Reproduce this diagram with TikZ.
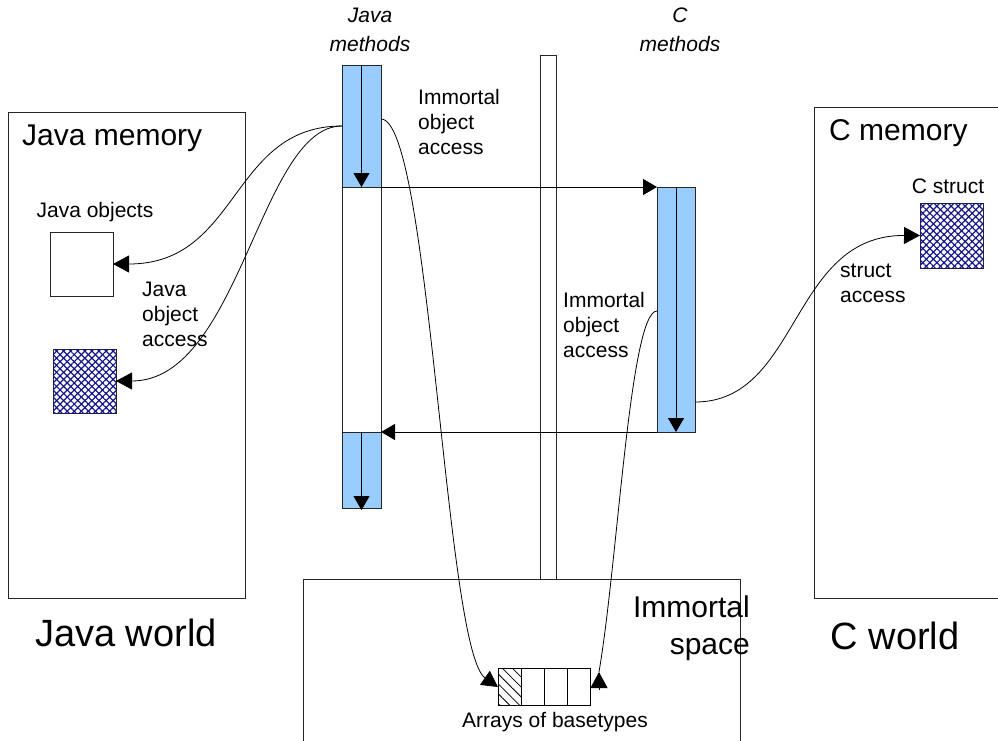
\documentclass[tikz,border=0pt]{standalone}
\usepackage{fontspec}
\setmainfont{Liberation Sans}
\usetikzlibrary{arrows.meta,patterns.meta,calc}
\definecolor{colblue}{HTML}{99CCFF}
\definecolor{hatchnavy}{HTML}{14148A}
\tikzset{
  box/.style={draw=black!85, line width=0.9pt, inner sep=0pt, outer sep=0pt},
  bluebox/.style={box, fill=colblue},
  crosshatch/.style={box, postaction={pattern={Lines[angle=45,distance=5pt,line width=1.2pt]}, pattern color=hatchnavy},
                     postaction={pattern={Lines[angle=-45,distance=5pt,line width=1.2pt]}, pattern color=hatchnavy}},
  cell/.style={box, draw=black, minimum width=23pt, minimum height=37pt},
  flow/.style={draw=black, line width=0.9pt, -{Triangle[length=14pt,width=16pt]}},
  access/.style={draw=black, line width=0.8pt, -{Triangle[length=16pt,width=17pt]}},
  small/.style={font=\fontsize{21}{25}\selectfont, inner sep=0pt, align=left},
  smallit/.style={font=\fontsize{21}{29}\selectfont\itshape, inner sep=0pt, align=center},
  big/.style={font=\fontsize{30}{37}\selectfont, inner sep=0pt},
  huge/.style={font=\fontsize{38}{44}\selectfont, inner sep=0pt}
}
\begin{document}
\begin{tikzpicture}[x=1pt,y=-1pt]
\useasboundingbox (0,0) rectangle (998,740);
\clip (0,0) rectangle (998,740);
\fill[white] (0,0) rectangle (998,740);

% memory areas
\node[box, minimum width=237pt, minimum height=486pt] (javamem) at (126.5,355) {};
\node[box, minimum width=198pt, minimum height=491pt] (cmem) at (913,352.5) {};
\node[box, minimum width=437pt, minimum height=191pt] (immortal) at (521.5,674.5) {};
\node[box, minimum width=16pt, minimum height=524pt] (mid) at (548,317) {};

% Java method column
\node[box, fill=white, minimum width=39pt, minimum height=443pt] (jcol) at (361.5,286.5) {};
\node[bluebox, minimum width=39pt, minimum height=122pt] (jb1) at (361.5,126) {};
\node[bluebox, minimum width=39pt, minimum height=76pt] (jb2) at (361.5,470) {};
% C method column
\node[bluebox, minimum width=38pt, minimum height=245pt] (ccol) at (676,309.5) {};

\draw[flow] (jb1.north) -- (jb1.south);
\draw[flow] (jb2.north) -- ($(jb2.south)+(0,2)$);
\draw[flow] (ccol.north) -- (ccol.south);

% calls
\draw[flow] (jb1.south east) -- (ccol.north west);
\draw[flow] (ccol.south west) -- (jb2.north east);

% objects
\node[box, fill=white, minimum width=63pt, minimum height=64pt] (jobj) at (81.5,264) {};
\node[crosshatch, minimum width=63pt, minimum height=64pt] (jobj2) at (84.5,381) {};
\node[crosshatch, minimum width=63pt, minimum height=65pt] (cstruct) at (951.5,235.5) {};

% array of basetypes
\node[cell, postaction={pattern={Lines[angle=-45,distance=7pt,line width=0.8pt]}, pattern color=black}] (c1) at (509.5,687) {};
\node[cell] (c2) at (532.5,687) {};
\node[cell] (c3) at (555.5,687) {};
\node[cell] (c4) at (578.5,687) {};

% connector endpoints
\coordinate (ja) at (342,126);
\coordinate (jim) at (381,119);
\coordinate (cim) at (657,311);
\coordinate (cst) at (695,402);
\coordinate (arrtip) at (599,672);
\coordinate (arrbase) at (599,690);

% access curves
\draw[access] (ja) .. controls (230,126) and (240,264) .. (jobj.east);
\draw[access] (ja) .. controls (260,126) and (240,381) .. (jobj2.east);
\draw[access] (jim) .. controls (430,119) and (445,650) .. (c1.west);
\draw[line width=0.8pt] (cim) .. controls (630,311) and (618,560) .. (arrtip);
\draw[access] (arrbase) -- (arrtip);
\draw[access] (cst) .. controls (800,402) and (790,235) .. (cstruct.west);

% labels
\node[smallit] (jmeth) at (370,30) {Java\\methods};
\node[smallit] (cmeth) at (680,30) {C\\methods};
\node[small, anchor=west] (imm1) at (418,122) {Immortal\\object\\access};
\node[small, anchor=west] (imm2) at (563,325) {Immortal\\object\\access};
\node[small, anchor=west] (jacc) at (142,314) {Java\\object\\access};
\node[small, anchor=west] (sacc) at (840,283.5) {struct\\access};
\node[small] (jobjl) at (95,212) {Java objects};
\node[small] (cstl) at (948,186) {C struct};
\node[small] (arrl) at (555,722) {Arrays of basetypes};
\node[big, anchor=west] (jmeml) at (22,138) {Java memory};
\node[big, anchor=west] (cmeml) at (829,133) {C memory};
\node[big, anchor=east, align=right] (imml) at (750,628) {Immortal\\space};
\node[huge] (jworld) at (126,633) {Java world};
\node[huge] (cworld) at (895,636) {C world};
\end{tikzpicture}
\end{document}
